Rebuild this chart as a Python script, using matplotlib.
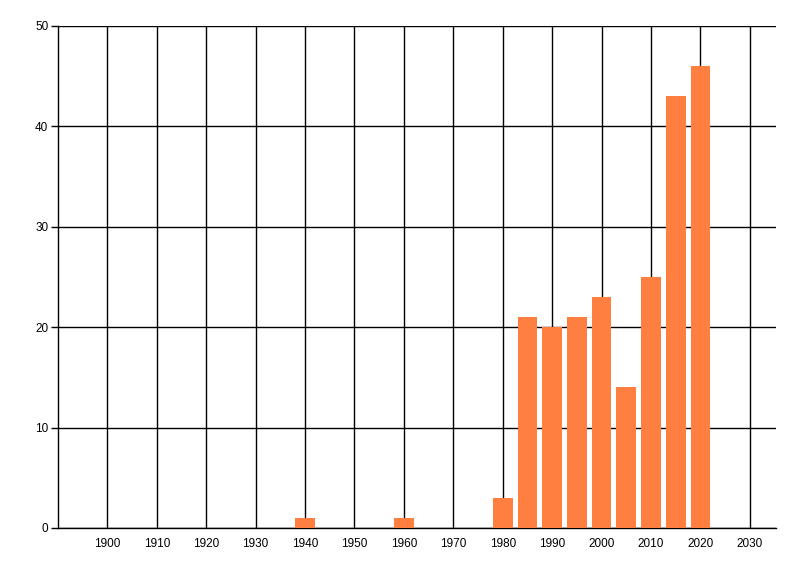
import matplotlib
matplotlib.use("Agg")
import matplotlib.pyplot as plt

plt.rcParams['font.family'] = ['Liberation Sans', 'DejaVu Sans']

years = [1940, 1960, 1980, 1985, 1990, 1995, 2000, 2005, 2010, 2015, 2020]
counts = [1, 1, 3, 21, 20, 21, 23, 14, 25, 43, 46]
xticks = list(range(1900, 2031, 10))
yticks = [0, 10, 20, 30, 40, 50]

fig = plt.figure(figsize=(8, 5.76), dpi=100)
ax = fig.add_axes([58/800, 48/576, (776-58)/800, (528-26)/576])
ax.bar(years, counts, width=4.0, color="#FF7F40", zorder=3)
ax.set_xlim(1890, 2035.3)
ax.set_ylim(0, 50)
ax.set_xticks(xticks)
ax.set_yticks(yticks)
ax.grid(True, color="black", linewidth=1.0, zorder=0)
ax.set_axisbelow(True)
for s in ["top", "right"]:
    ax.spines[s].set_visible(False)
for s in ["left", "bottom"]:
    ax.spines[s].set_linewidth(1.0)
ax.tick_params(axis="x", length=0, pad=7, labelsize=8.5)
ax.tick_params(axis="y", length=5, width=1, pad=2, labelsize=8.5)
fig.savefig("out.png", dpi=100)
